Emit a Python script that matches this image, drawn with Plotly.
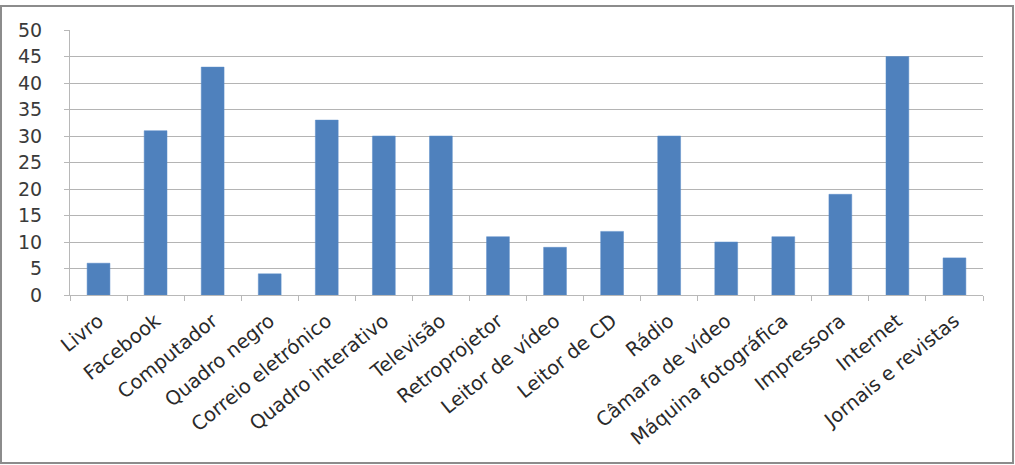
import plotly.graph_objects as go

categories = ["Livro", "Facebook", "Computador", "Quadro negro", "Correio eletrónico",
              "Quadro interativo", "Televisão", "Retroprojetor", "Leitor de vídeo",
              "Leitor de CD", "Rádio", "Câmara de vídeo", "Máquina fotográfica",
              "Impressora", "Internet", "Jornais e revistas"]
values = [6, 31, 43, 4, 33, 30, 30, 11, 9, 12, 30, 10, 11, 19, 45, 7]
y_ticks = [0, 5, 10, 15, 20, 25, 30, 35, 40, 45, 50]

W, H = 1015, 465
ML, MR, MT, MB = 70, 32, 30, 170
pw, ph = W - ML - MR, H - MT - MB

fig = go.Figure(go.Bar(
    x=categories, y=values,
    marker=dict(color="#4F81BD", line=dict(color="#5B8CC8", width=0.5)),
))

def px_x(p):
    return (p - ML) / pw

def px_y(p):
    return (H - MB - p) / ph

fig.add_shape(type="rect", xref="paper", yref="paper",
              x0=px_x(1), x1=px_x(1013), y0=px_y(6), y1=px_y(463),
              line=dict(color="#8c8c8c", width=2), layer="below")

fig.update_layout(
    width=W, height=H,
    margin=dict(l=ML, r=MR, t=MT, b=MB),
    paper_bgcolor="white", plot_bgcolor="white",
    bargap=0.6, showlegend=False,
    font=dict(family="DejaVu Sans", size=16, color="#404040"),
)
fig.update_xaxes(
    tickangle=-39, showgrid=False, showline=True, linecolor="#b8b8b8", linewidth=1,
    ticks="outside", tickson="boundaries", ticklen=5, tickcolor="#b8b8b8",
    tickfont=dict(size=19.5, color="#2a2a2a"), ticklabelstandoff=6,
)
fig.update_yaxes(
    range=[0, 50], tickvals=y_ticks, showgrid=True, gridcolor="#b4b4b4", gridwidth=1,
    showline=True, linecolor="#b8b8b8", linewidth=1, ticks="outside", ticklen=5,
    tickcolor="#b8b8b8", tickfont=dict(size=19, color="#3a3a3a"), zeroline=False,
    ticklabelstandoff=18,
)

fig.write_html("out.html")
